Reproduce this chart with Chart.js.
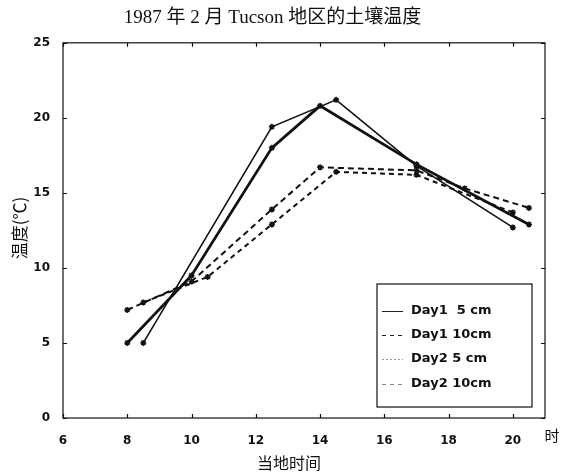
<!DOCTYPE html>
<html>
<head>
<meta charset="utf-8">
<script src="https://cdn.jsdelivr.net/npm/chart.js@4"></script>
<style>
    body { margin: 0; background: #fff; }
    #box { width: 562px; height: 475px; }
</style>
</head>
<body>
<div id="box"><canvas id="soil" width="562" height="475"></canvas></div>
<script>
// values (hour of day, soil temperature in C)
const seriesNames = ['Day1  5 cm', 'Day1 10cm', 'Day2 5 cm', 'Day2 10cm'];

const day1Hours5  = [8, 10, 12.5, 14, 17, 20.5];
const day1Temps5  = [5.0, 9.5, 18.0, 20.8, 16.9, 12.9];

const day1Hours10 = [8, 10, 12.5, 14, 17, 18.5, 20.5];
const day1Temps10 = [7.2, 9.1, 13.9, 16.7, 16.5, 15.3, 14.0];

const day2Hours5  = [8.5, 12.5, 14.5, 17, 20];
const day2Temps5  = [5.0, 19.4, 21.2, 16.8, 12.7];

const day2Hours10 = [8.5, 10.5, 12.5, 14.5, 17, 20];
const day2Temps10 = [7.7, 9.4, 12.9, 16.4, 16.2, 13.7];

const xTicks = [6, 8, 10, 12, 14, 16, 18, 20];
const yTicks = [0, 5, 10, 15, 20, 25];

const chartTitle = '1987 年 2 月 Tucson 地区的土壤温度';
const xTitle = '当地时间';
const xUnit = '时';
const yTitle = '温度(℃)';

function toPoints(xs, ys) {
    let pts = [];
    for (let i = 0; i < xs.length; i++) {
        pts.push({x: xs[i], y: ys[i]});
    }
    return pts;
}

function line(label, xs, ys, width, dash) {
    return {
        label: label,
        data: toPoints(xs, ys),
        showLine: true,
        borderColor: '#111',
        backgroundColor: '#111',
        borderWidth: width,
        borderDash: dash,
        pointStyle: 'star',
        pointRadius: 3,
        pointBorderWidth: 1.5,
        pointBorderColor: '#111',
        tension: 0
    };
}

// legend sample look, same order as seriesNames
const legendLook = [
    {color: '#222', dash: [], width: 1},
    {color: '#222', dash: [4, 4], width: 1},
    {color: '#999', dash: [2, 2], width: 1},
    {color: '#888', dash: [4, 4], width: 1}
];

const decor = {
    id: 'decor',
    beforeDraw(chart) {
        const c = chart.ctx;
        c.save();
        c.fillStyle = '#fff';
        c.fillRect(0, 0, chart.width, chart.height);
        c.restore();
    },
    afterDatasetsDraw(chart) {
        const c = chart.ctx;
        const a = chart.chartArea;
        const sx = chart.scales.x;
        const sy = chart.scales.y;
        c.save();

        // frame
        c.strokeStyle = '#111';
        c.lineWidth = 1.2;
        c.strokeRect(a.left, a.top, a.right - a.left, a.bottom - a.top);

        // inward ticks
        c.beginPath();
        xTicks.forEach(v => {
            let px = Math.round(sx.getPixelForValue(v)) + 0.5;
            c.moveTo(px, a.bottom); c.lineTo(px, a.bottom - 4);
            c.moveTo(px, a.top); c.lineTo(px, a.top + 4);
        });
        yTicks.forEach(v => {
            let py = Math.round(sy.getPixelForValue(v)) + 0.5;
            c.moveTo(a.left, py); c.lineTo(a.left + 4, py);
            c.moveTo(a.right, py); c.lineTo(a.right - 4, py);
        });
        c.stroke();

        // axis titles
        c.fillStyle = '#111';
        c.textAlign = 'center';
        c.textBaseline = 'middle';
        c.font = '16px "Noto Sans CJK SC"';
        c.fillText(xTitle, 289, 463);
        c.font = '15px "Noto Sans CJK SC"';
        c.fillText(xUnit, 552, 435);

        c.save();
        c.translate(20, 228);
        c.rotate(-Math.PI / 2);
        c.font = '17px "Noto Sans CJK SC"';
        c.fillText(yTitle, 0, 0);
        c.restore();

        // legend box
        const lx = 377, ly = 284, lw = 155, lh = 123;
        c.fillStyle = '#fff';
        c.fillRect(lx, ly, lw, lh);
        c.strokeStyle = '#111';
        c.lineWidth = 1.2;
        c.strokeRect(lx, ly, lw, lh);

        const rows = [311, 335, 359, 384];
        c.font = 'bold 13px "DejaVu Sans"';
        c.textAlign = 'left';
        chart.data.datasets.forEach((ds, i) => {
            const look = legendLook[i];
            c.beginPath();
            c.strokeStyle = look.color;
            c.lineWidth = look.width;
            c.setLineDash(look.dash);
            c.moveTo(382, rows[i] + 0.5);
            c.lineTo(403, rows[i] + 0.5);
            c.stroke();
            c.setLineDash([]);
            c.fillStyle = '#111';
            c.fillText(ds.label, 411, rows[i]);
        });

        c.restore();
    }
};

const ctx = document.getElementById('soil').getContext('2d');
const chart = new Chart(ctx, {
    type: 'scatter',
    data: {
        datasets: [
            line(seriesNames[0], day1Hours5, day1Temps5, 2.8, []),
            line(seriesNames[1], day1Hours10, day1Temps10, 2, [6, 4]),
            line(seriesNames[2], day2Hours5, day2Temps5, 1.6, []),
            line(seriesNames[3], day2Hours10, day2Temps10, 2, [5, 4])
        ]
    },
    options: {
        responsive: false,
        animation: false,
        layout: { padding: { left: 0, right: 17, top: 0, bottom: 0 } },
        plugins: {
            legend: { display: false },
            tooltip: { enabled: false },
            title: {
                display: true,
                text: chartTitle,
                color: '#111',
                font: { family: '"Liberation Serif", "Noto Sans CJK SC"', size: 19, weight: 'normal' },
                padding: { top: 7, bottom: 13 }
            }
        },
        scales: {
            x: {
                type: 'linear',
                min: 6,
                max: 21,
                grid: { display: false },
                border: { display: false },
                ticks: {
                    stepSize: 2,
                    includeBounds: false,
                    padding: 8,
                    maxRotation: 0,
                    color: '#111',
                    font: { family: '"DejaVu Sans"', size: 12, weight: 'bold' }
                },
                afterFit: scale => { scale.height = 57; }
            },
            y: {
                min: 0,
                max: 25,
                grid: { display: false },
                border: { display: false },
                ticks: {
                    stepSize: 5,
                    padding: 5,
                    color: '#111',
                    font: { family: '"DejaVu Sans"', size: 12, weight: 'bold' }
                },
                afterFit: scale => { scale.width = 63; }
            }
        }
    },
    plugins: [decor]
});
</script>
</body>
</html>
